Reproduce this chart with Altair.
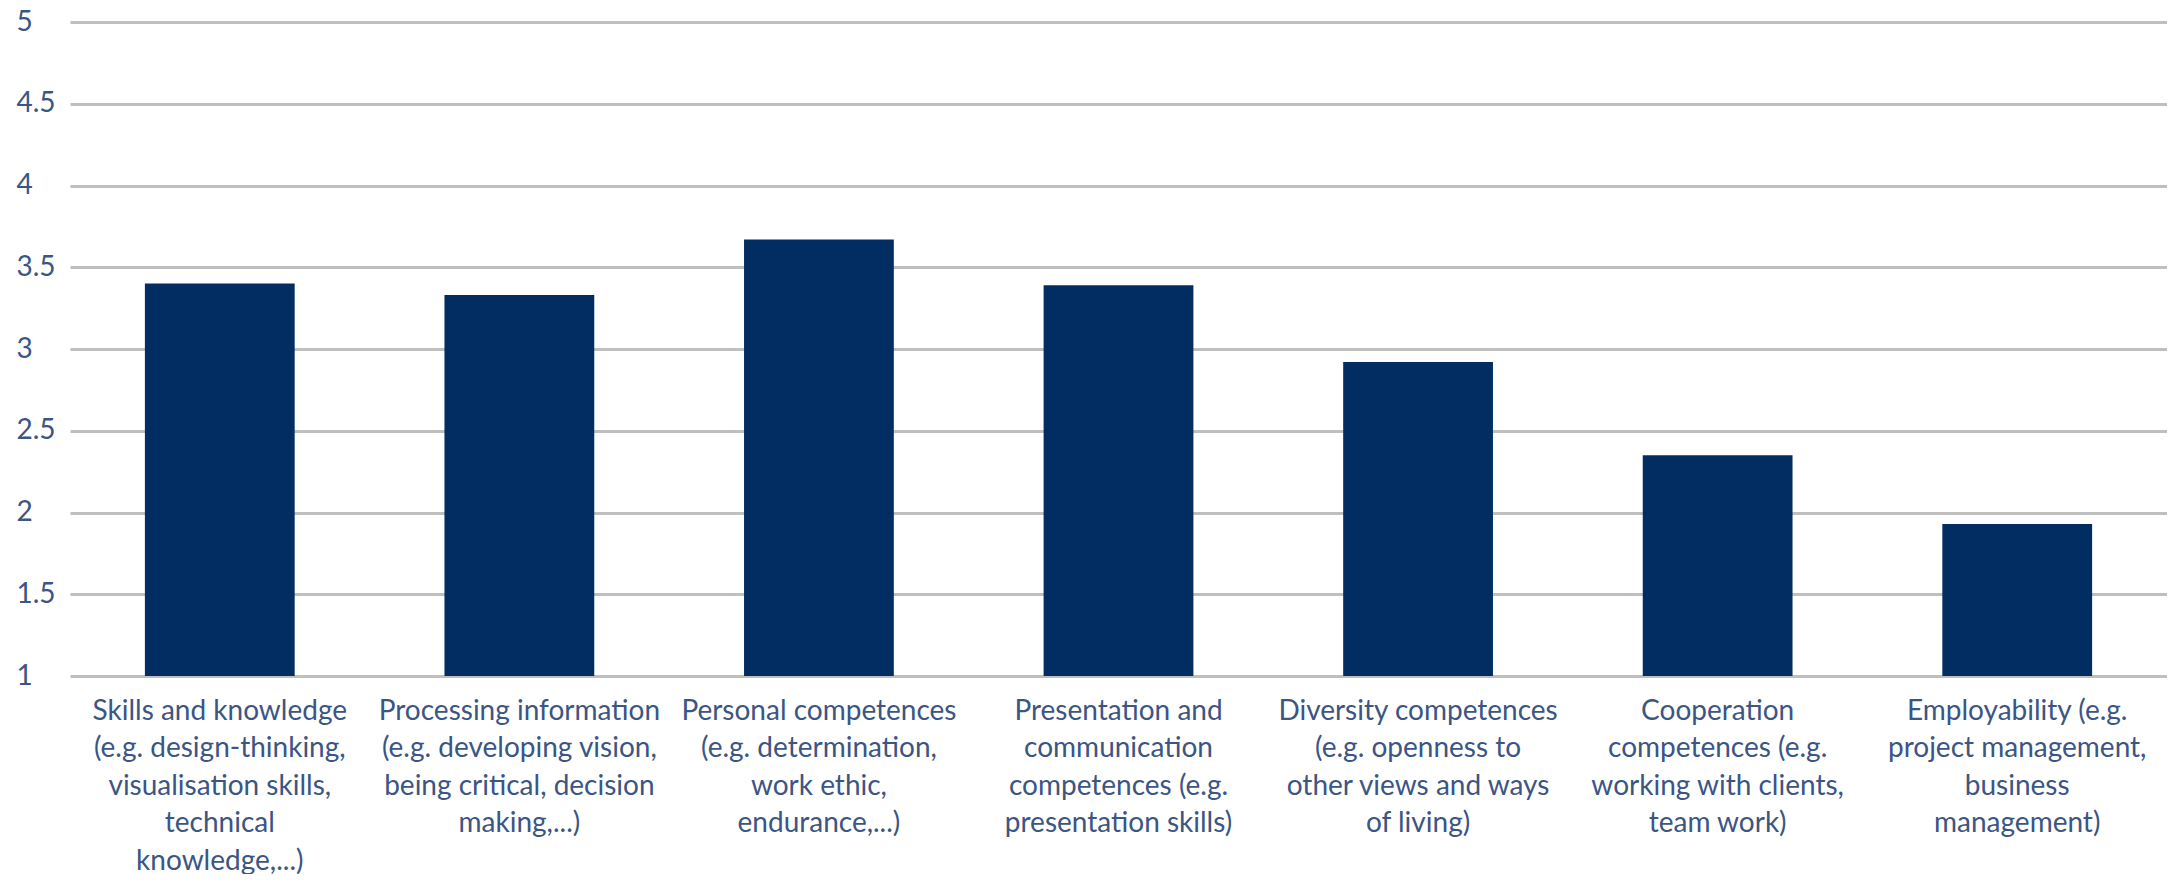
import altair as alt
import pandas as pd

categories = [
    "Skills and knowledge\n(e.g. design-thinking,\nvisualisation skills,\ntechnical\nknowledge,...)",
    "Processing information\n(e.g. developing vision,\nbeing critical, decision\nmaking,...)",
    "Personal competences\n(e.g. determination,\nwork ethic,\nendurance,...)",
    "Presentation and\ncommunication\ncompetences (e.g.\npresentation skills)",
    "Diversity competences\n(e.g. openness to\nother views and ways\nof living)",
    "Cooperation\ncompetences (e.g.\nworking with clients,\nteam work)",
    "Employability (e.g.\nproject management,\nbusiness\nmanagement)",
]
values = [3.40, 3.33, 3.67, 3.39, 2.92, 2.35, 1.93]
y_ticks = [1, 1.5, 2, 2.5, 3, 3.5, 4, 4.5, 5]

df = pd.DataFrame({"category": categories, "value": values, "base": [1] * len(values)})

TEXT = "#3b5584"
FONT = "Lato"

chart = (
    alt.Chart(df)
    .mark_bar(color="#022d62")
    .encode(
        x=alt.X(
            "category:N",
            sort=None,
            title=None,
            scale=alt.Scale(paddingInner=0.5, paddingOuter=0.25),
            axis=alt.Axis(
                labelAngle=0,
                labelExpr="split(datum.label, '\\n')",
                labelFont=FONT,
                labelFontSize=28,
                labelColor=TEXT,
                labelLineHeight=37.5,
                labelPadding=21,
                labelLimit=400,
                labelBaseline="top",
                ticks=False,
                domain=False,
                grid=False,
            ),
        ),
        y=alt.Y(
            "value:Q",
            title=None,
            scale=alt.Scale(domain=[1, 5], nice=False, zero=False),
            axis=alt.Axis(
                values=y_ticks,
                labelExpr="datum.value",
                labelFont=FONT,
                labelFontSize=28,
                labelColor=TEXT,
                labelAlign="left",
                labelBaseline="middle",
                labelPadding=54,
                ticks=False,
                tickSize=0,
                domain=False,
                grid=True,
                gridColor="#bfbfbf",
                gridWidth=3,
            ),
        ),
        y2="base:Q",
    )
    .properties(
        width=2097,
        height=654,
        background="white",
        autosize=alt.AutoSizeParams(type="none"),
        padding={"left": 62, "top": 14, "right": 0, "bottom": 198},
    )
    .configure_view(strokeWidth=0, stroke=None)
)

chart.save("out.html", embed_options={"renderer": "svg", "actions": False})
